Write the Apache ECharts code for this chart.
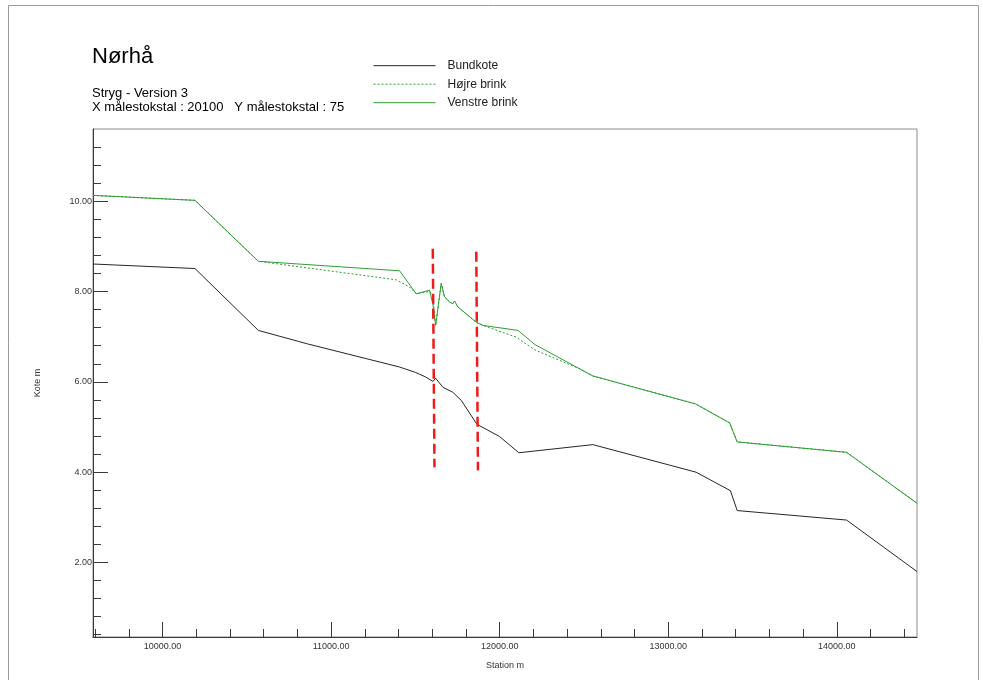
<!DOCTYPE html>
<html>
<head>
<meta charset="utf-8">
<title>Nørhå – Stryg</title>
<script src="https://cdn.jsdelivr.net/npm/echarts@6/dist/echarts.min.js"></script>
<style>
  html, body { margin: 0; padding: 0; background: #ffffff; }
  #chart { width: 983px; height: 680px; }
</style>
</head>
<body>
<div id="chart"></div>
<script>
// Longitudinal profile, station (m) vs level (m)
const bundkote = [
  [9587, 8.61], [10192, 8.51], [10568, 7.14], [10861, 6.84], [11405, 6.33],
  [11500, 6.21], [11560, 6.11], [11604, 6.01], [11620, 6.08], [11663, 5.88],
  [11722, 5.77], [11772, 5.59], [11865, 5.06], [11999, 4.79], [12114, 4.43],
  [12553, 4.61], [13165, 4.00], [13369, 3.59], [13409, 3.15], [14058, 2.94],
  [14476, 1.80]
];
const hoejreBrink = [
  [9587, 10.13], [10192, 10.02], [10568, 8.67], [11386, 8.26], [11465, 8.10],
  [11505, 7.95], [11584, 8.00], [11603, 7.92], [11620, 7.25], [11653, 8.18],
  [11663, 8.21], [11673, 7.88], [11703, 7.77], [11722, 7.73], [11732, 7.79],
  [11752, 7.66], [11861, 7.32], [11901, 7.25], [12099, 6.99], [12207, 6.71],
  [12474, 6.29], [12553, 6.13], [13163, 5.51], [13365, 5.09], [13409, 4.67],
  [14058, 4.44], [14477, 3.31]
];
const venstreBrink = [
  [9587, 10.13], [10192, 10.02], [10568, 8.67], [11406, 8.46], [11505, 7.95],
  [11584, 8.03], [11603, 7.73], [11620, 7.25], [11653, 8.18], [11663, 8.21],
  [11673, 7.88], [11703, 7.77], [11722, 7.73], [11732, 7.79], [11752, 7.66],
  [11861, 7.32], [11901, 7.25], [12109, 7.14], [12207, 6.83], [12553, 6.13],
  [13163, 5.51], [13365, 5.09], [13409, 4.67], [14058, 4.44], [14477, 3.31]
];
// Section markers
const markerA = [[11603, 8.95], [11613, 4.11]];
const markerB = [[11861, 8.88], [11871, 4.04]];

const xMajorTicks = [10000, 11000, 12000, 13000, 14000];
const xMinorTicks = [9600, 9800, 10200, 10400, 10600, 10800, 11200, 11400, 11600, 11800,
  12200, 12400, 12600, 12800, 13200, 13400, 13600, 13800, 14200, 14400];
const yMajorTicks = [2, 4, 6, 8, 10];
const yMinorTicks = [0.4, 0.8, 1.2, 1.6, 2.4, 2.8, 3.2, 3.6, 4.4, 4.8, 5.2, 5.6,
  6.4, 6.8, 7.2, 7.6, 8.4, 8.8, 9.2, 9.6, 10.4, 10.8, 11.2];

const xRange = [9587, 14476];
const yRange = [0.35, 11.6];

const FONT = '"Liberation Sans", Arial, sans-serif';
const AXIS_COLOR = '#3a3a3a';
const GREEN = '#2f9e34';

const chart = echarts.init(document.getElementById('chart'), null, { renderer: 'canvas' });

chart.setOption({
  animation: false,
  backgroundColor: '#ffffff',
  textStyle: { fontFamily: FONT },
  graphic: [{
    type: 'rect',
    z: -10,
    silent: true,
    shape: { x: 8.5, y: 5.5, width: 970, height: 700 },
    style: { fill: 'none', stroke: '#9a9a9a', lineWidth: 1 }
  }],
  title: [{
    text: 'Nørhå',
    left: 92, top: 44.6, padding: 0,
    textStyle: { fontFamily: FONT, fontSize: 22, fontWeight: 'normal', color: '#000', lineHeight: 24 }
  }, {
    text: 'Stryg - Version 3\nX målestokstal : 20100   Y målestokstal : 75',
    left: 92, top: 87, padding: 0,
    textStyle: { fontFamily: FONT, fontSize: 13, fontWeight: 'normal', color: '#000', lineHeight: 13.4 }
  }],
  legend: {
    data: ['Bundkote', 'Højre brink', 'Venstre brink'],
    orient: 'vertical',
    left: 373, top: 59.7, padding: 0,
    itemWidth: 62, itemHeight: 12, itemGap: 6.5,
    selectedMode: false,
    itemStyle: { opacity: 0 },
    lineStyle: { width: 1 },
    textStyle: { fontFamily: FONT, fontSize: 12, color: '#222', lineHeight: 12, padding: [0, 0, 0, 7] }
  },
  grid: {
    left: 93, right: 66, top: 129, bottom: 43,
    show: true, borderColor: '#8c8c8c', borderWidth: 1, backgroundColor: 'transparent'
  },
  xAxis: [{
    type: 'value', position: 'bottom', min: xRange[0], max: xRange[1],
    name: 'Station m', nameLocation: 'middle', nameGap: 24,
    nameTextStyle: { fontFamily: FONT, fontSize: 9, color: '#333' },
    axisLine: { show: true, lineStyle: { color: AXIS_COLOR, width: 1 } },
    axisTick: { show: true, inside: true, length: 15, customValues: xMajorTicks, lineStyle: { color: AXIS_COLOR } },
    axisLabel: { customValues: xMajorTicks, fontSize: 9, color: '#333', margin: 5, formatter: v => v.toFixed(2) },
    splitLine: { show: false }
  }, {
    type: 'value', position: 'bottom', min: xRange[0], max: xRange[1],
    axisLine: { show: false },
    axisTick: { show: true, inside: true, length: 8, customValues: xMinorTicks, lineStyle: { color: AXIS_COLOR } },
    axisLabel: { show: false },
    splitLine: { show: false }
  }],
  yAxis: [{
    type: 'value', position: 'left', min: yRange[0], max: yRange[1],
    name: 'Kote m', nameLocation: 'middle', nameGap: 51, nameRotate: 90,
    nameTextStyle: { fontFamily: FONT, fontSize: 9, color: '#333' },
    axisLine: { show: true, lineStyle: { color: AXIS_COLOR, width: 1 } },
    axisTick: { show: true, inside: true, length: 15, customValues: yMajorTicks, lineStyle: { color: AXIS_COLOR } },
    axisLabel: { customValues: yMajorTicks, fontSize: 9, color: '#333', margin: 1, formatter: v => v.toFixed(2) },
    splitLine: { show: false }
  }, {
    type: 'value', position: 'left', min: yRange[0], max: yRange[1],
    axisLine: { show: false },
    axisTick: { show: true, inside: true, length: 8, customValues: yMinorTicks, lineStyle: { color: AXIS_COLOR } },
    axisLabel: { show: false },
    splitLine: { show: false }
  }],
  series: [{
    name: 'Bundkote', type: 'line', data: bundkote, symbol: 'none',
    xAxisIndex: 0, yAxisIndex: 0,
    lineStyle: { color: '#262626', width: 1 }, itemStyle: { color: '#262626' }, z: 3
  }, {
    name: 'Højre brink', type: 'line', data: hoejreBrink, symbol: 'none',
    xAxisIndex: 0, yAxisIndex: 0,
    lineStyle: { color: GREEN, width: 1, type: [2, 2] }, itemStyle: { color: GREEN }, z: 2
  }, {
    name: 'Venstre brink', type: 'line', data: venstreBrink, symbol: 'none',
    xAxisIndex: 0, yAxisIndex: 0,
    lineStyle: { color: GREEN, width: 1 }, itemStyle: { color: GREEN }, z: 3
  }, {
    name: 'markerA', type: 'line', data: markerA, symbol: 'none',
    xAxisIndex: 0, yAxisIndex: 0,
    lineStyle: { color: '#f01a1a', width: 2.5, type: [10, 5] }, z: 5
  }, {
    name: 'markerB', type: 'line', data: markerB, symbol: 'none',
    xAxisIndex: 0, yAxisIndex: 0,
    lineStyle: { color: '#f01a1a', width: 2.5, type: [10, 5] }, z: 5
  }]
});
</script>
</body>
</html>
